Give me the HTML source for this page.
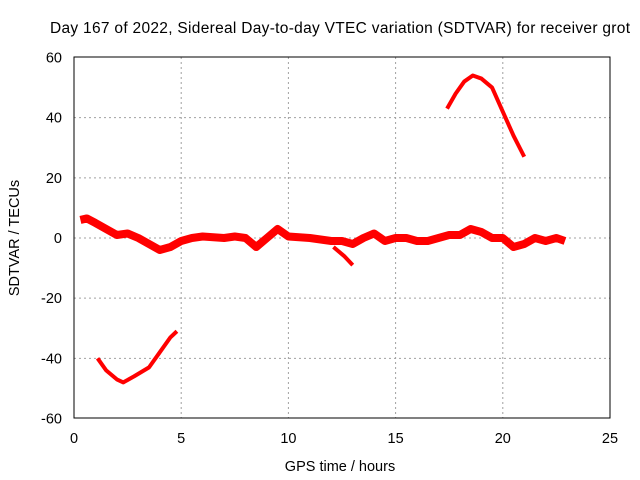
<!DOCTYPE html>
<html><head><meta charset="utf-8"><style>
body{margin:0;background:#fff}
svg{display:block;font-family:"Liberation Sans",sans-serif}
</style></head><body>
<svg id="c" width="640" height="480">
<text x="340" y="33" font-size="15.5" text-anchor="middle" textLength="580">Day 167 of 2022, Sidereal Day-to-day VTEC variation (SDTVAR) for receiver grot</text>
<text x="340" y="471" font-size="14.5" text-anchor="middle">GPS time / hours</text>
<text transform="translate(19,238) rotate(-90)" font-size="14.5" text-anchor="middle">SDTVAR / TECUs</text>
<g id="grid"></g><g id="series"></g>
<rect x="74" y="57" width="536" height="361" fill="none" stroke="#000" stroke-width="1"/>
</svg>
<script>
const xTicks=[0,5,10,15,20,25];
const yTicks=[-60,-40,-20,0,20,40,60];
const mainX=[0.3,0.6,1,1.5,2,2.5,3,3.5,4,4.5,5,5.5,6,7,7.5,8,8.5,9,9.5,10,11,12,12.5,13,13.5,14,14.5,15,15.5,16,16.5,17,17.5,18,18.5,19,19.5,20,20.5,21,21.5,22,22.5,22.9];
const mainY=[6,6.5,5,3,1,1.5,0,-2,-4,-3,-1,0,0.5,0,0.5,0,-3,0,3,0.5,0,-1,-1,-2,0,1.5,-1,0,0,-1,-1,0,1,1,3,2,0,0,-3,-2,0,-1,0,-1];
const branchX=[12.1,12.6,13];
const branchY=[-3,-6,-9];
const lowX=[1.1,1.5,2,2.3,2.8,3.5,4,4.5,4.8];
const lowY=[-40,-44,-47,-48,-46,-43,-38,-33,-31];
const highX=[17.4,17.8,18.2,18.6,19,19.5,20,20.5,21];
const highY=[43,48,52,54,53,50,42,34,27];
const sx=v=>74+v*536/25, sy=v=>238-v*361/120;
const NS='http://www.w3.org/2000/svg';
const g=document.getElementById('grid'), s=document.getElementById('series');
function mk(t,a,p){const e=document.createElementNS(NS,t);for(const k in a)e.setAttribute(k,a[k]);p.appendChild(e);return e;}
xTicks.forEach(v=>{
 const X=sx(v);
 if(v>0&&v<25){const l=mk('line',{x1:X,x2:X,y1:57,y2:418,stroke:'#a0a0a0','stroke-dasharray':'2,3'},g);
 
 }
 const t=mk('text',{x:X,y:443,'font-size':14.5,'text-anchor':'middle'},g);t.textContent=v;
 
 
});
yTicks.forEach(v=>{
 const Y=sy(v);
 if(v>-60&&v<60){const l=mk('line',{x1:74,x2:610,y1:Y,y2:Y,stroke:'#a0a0a0','stroke-dasharray':'2,3'},g);
 
 }
 const t=mk('text',{x:62,y:Y+5,'font-size':14.5,'text-anchor':'end'},g);t.textContent=v;
 
 
});
function line(xs,ys,name,w){
 const p=mk('polyline',{points:xs.map((x,i)=>sx(x)+','+sy(ys[i])).join(' '),fill:'none',stroke:'#ff0000','stroke-width':w,'stroke-linejoin':'round'},s);
 
 
}
line(mainX,mainY,'series-main',8);
line(branchX,branchY,'series-branch',4);
line(lowX,lowY,'series-low',4);
line(highX,highY,'series-high',4);
</script>
</body></html>
